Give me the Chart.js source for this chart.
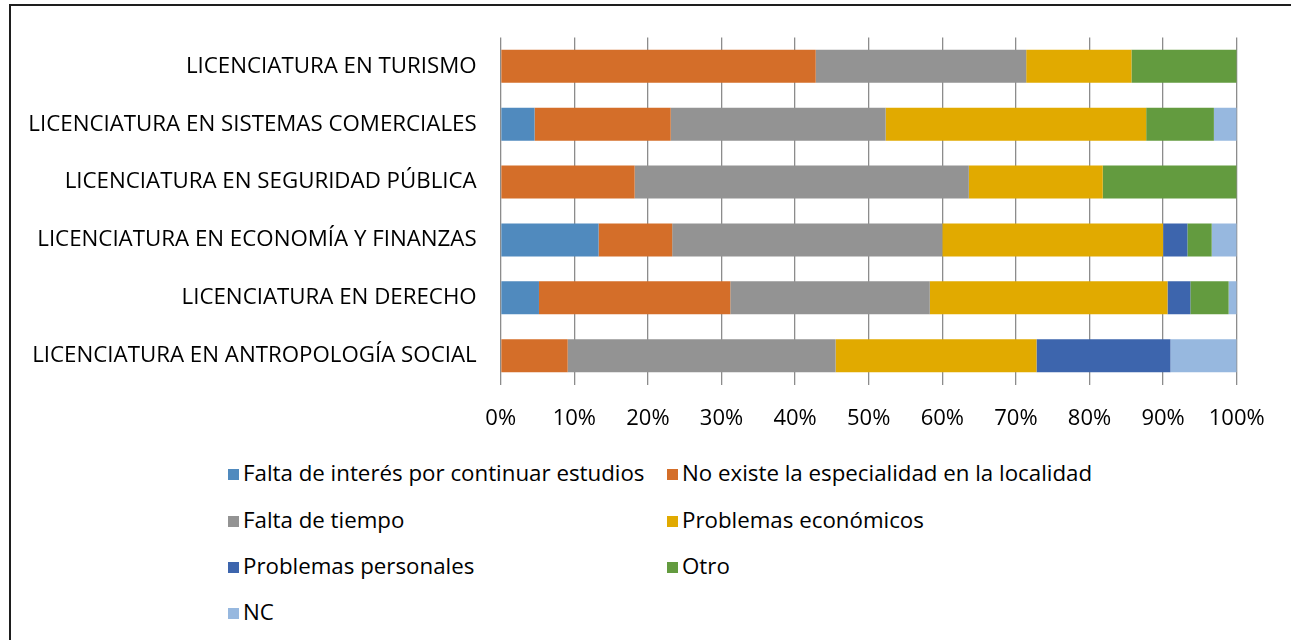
<!DOCTYPE html>
<html>
<head>
<meta charset="utf-8">
<script src="https://cdn.jsdelivr.net/npm/chart.js@4/dist/chart.umd.min.js"></script>
<style>
    body { margin: 0; background: #fff; }
    #wrap { position: relative; width: 1291px; height: 640px; overflow: hidden; }
    #frame { position: absolute; left: 9px; top: 4px; width: 1400px; height: 700px;
             border-left: 2px solid #1e1e1e; border-top: 2px solid #1e1e1e; }
    #chartBox { position: absolute; left: 0; top: 0; width: 1291px; height: 440px; }
    .item { position: absolute; height: 24px; line-height: 24px; font: 22.3px "Open Sans"; color: #000; white-space: nowrap; }
    .item span.box { display: inline-block; width: 11px; height: 11px; margin-right: 4px; vertical-align: 1px; }
</style>
</head>
<body>
<div id="wrap">
    <div id="frame"></div>
    <div id="chartBox"><canvas id="chart"></canvas></div>
    <div id="legend"></div>
</div>
<script>
const carreras = [
    'LICENCIATURA EN TURISMO',
    'LICENCIATURA EN SISTEMAS COMERCIALES',
    'LICENCIATURA EN SEGURIDAD PÚBLICA',
    'LICENCIATURA EN ECONOMÍA Y FINANZAS',
    'LICENCIATURA EN DERECHO',
    'LICENCIATURA EN ANTROPOLOGÍA SOCIAL'
];

// percentages per career, top to bottom
const faltaInteres = [0, 4.6, 0, 13.3, 5.2, 0];
const noExiste = [42.8, 18.5, 18.2, 10.0, 26.0, 9.1];
const faltaTiempo = [28.6, 29.2, 45.4, 36.7, 27.1, 36.4];
const economicos = [14.3, 35.4, 18.2, 30.0, 32.3, 27.3];
const personales = [0, 0, 0, 3.3, 3.1, 18.2];
const otro = [14.3, 9.2, 18.2, 3.3, 5.2, 0];
const nc = [0, 3.1, 0, 3.4, 1.1, 9.0];

const seriesNames = [
    'Falta de interés por continuar estudios',
    'No existe la especialidad en la localidad',
    'Falta de tiempo',
    'Problemas económicos',
    'Problemas personales',
    'Otro',
    'NC'
];
const seriesValues = [faltaInteres, noExiste, faltaTiempo, economicos, personales, otro, nc];
const seriesColors = ['#508ABE', '#D46E29', '#939393', '#E1AA00', '#3D65AD', '#639B3F', '#97B8DF'];

const FONT = '"Open Sans"';
const plotLeft = 500.7;
const plotRight = 1236.7;
const plotTop = 33.4;
const plotBottom = 384.6;
const canvasHeight = 440;

function createChart(ctx) {
    const chartOptions = {
        type: 'bar',
        data: {
            labels: carreras,
            datasets: seriesNames.map((name, i) => ({
                label: name,
                data: seriesValues[i],
                backgroundColor: seriesColors[i],
                borderWidth: 0,
                barPercentage: 0.57,
                categoryPercentage: 1
            }))
        },
        options: {
            indexAxis: 'y',
            responsive: true,
            maintainAspectRatio: false,
            animation: false,
            layout: {
                padding: { left: 0, right: 1291 - plotRight, top: plotTop, bottom: 0 }
            },
            scales: {
                x: {
                    stacked: true,
                    min: 0,
                    max: 100,
                    ticks: {
                        stepSize: 10,
                        padding: 21,
                        color: '#000',
                        font: { family: FONT, size: 22 },
                        callback: value => value + '%'
                    },
                    grid: { color: '#8c8c8c', lineWidth: 1.3, drawTicks: false },
                    border: { display: false },
                    afterFit: scale => { scale.height = canvasHeight - plotBottom; }
                },
                y: {
                    stacked: true,
                    ticks: {
                        padding: 24,
                        color: '#000',
                        font: { family: FONT, size: 22.3 }
                    },
                    grid: { display: false, drawTicks: false },
                    border: { display: false },
                    afterFit: scale => { scale.width = plotLeft; }
                }
            },
            plugins: {
                legend: { display: false },
                tooltip: { enabled: false }
            }
        }
    };
    return new Chart(ctx, chartOptions);
}

function buildLegend() {
    // two columns, Excel style
    const colX = [228, 667];
    const rowY = [472, 519, 565, 611];
    const legend = document.getElementById('legend');
    seriesNames.forEach((name, i) => {
        let div = document.createElement('div');
        div.setAttribute('class', 'item');
        div.style.left = colX[i % 2] + 'px';
        div.style.top = (rowY[Math.floor(i / 2)] - 15) + 'px';
        div.innerHTML = '<span class="box" style="background:' + seriesColors[i] + '"></span>' + name;
        legend.appendChild(div);
    });
}

createChart(document.getElementById('chart'));
buildLegend();
</script>
</body>
</html>
